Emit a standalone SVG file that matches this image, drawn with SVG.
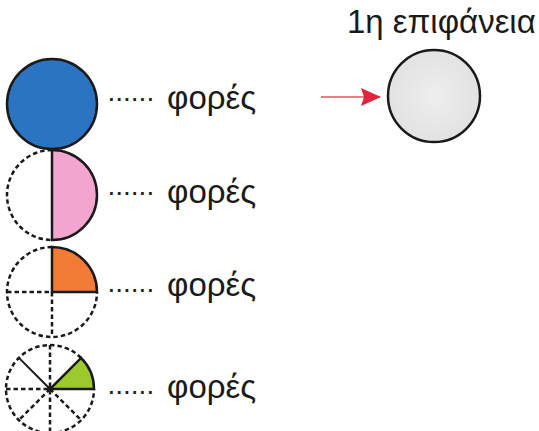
<svg xmlns="http://www.w3.org/2000/svg" width="539" height="431" viewBox="0 0 539 431">
<defs>
<style>
.lbl{font-family:"Liberation Sans",Arial,sans-serif;font-size:33px;fill:#1a1a1a}
.dots{font-family:"Liberation Sans",Arial,sans-serif;font-size:28px;fill:#222}
.solid{stroke:#1a1a1a;stroke-width:2.5;fill:none}
.dash{stroke:#1a1a1a;stroke-width:2.5;fill:none;stroke-dasharray:4.5 3}
</style>
<radialGradient id="gray" cx="0.5" cy="0.5" r="0.5">
<stop offset="0" stop-color="#eeeeee"/>
<stop offset="1" stop-color="#e2e2e2"/>
</radialGradient>
<marker id="arr" markerWidth="20" markerHeight="18" refX="19" refY="9" orient="auto" markerUnits="userSpaceOnUse" viewBox="0 0 20 18">
<path d="M0,0 L20,9 L0,18 L3,9 z" fill="#e0243c"/>
</marker>
</defs>
<rect width="539" height="431" fill="#ffffff"/>

<g id="whole">
<circle cx="52" cy="104" r="45" fill="#2b74c1" stroke="#1a1a1a" stroke-width="2.5"/>
<text class="dots" x="107.5" y="101">......</text>
<text class="lbl" x="167" y="109">φορές</text>
</g>

<g id="half">
<path d="M52,150 A45,45 0 0 1 52,240 Z" fill="#f2a6cf"/>
<path d="M52,150 A45,45 0 0 0 52,240" class="dash"/>
<path d="M52,150 A45,45 0 0 1 52,240 Z" class="solid"/>
<text class="dots" x="107.5" y="195">......</text>
<text class="lbl" x="167" y="203">φορές</text>
</g>

<g id="quarter">
<path d="M52,292 L52,247 A45,45 0 0 1 97,292 Z" fill="#f27b35"/>
<path d="M52,247 A45,45 0 1 0 97,292" class="dash"/>
<line x1="7" y1="292" x2="52" y2="292" class="dash"/>
<line x1="52" y1="292" x2="52" y2="337" class="dash"/>
<path d="M52,292 L52,247 A45,45 0 0 1 97,292 Z" class="solid"/>
<text class="dots" x="107.5" y="292">......</text>
<text class="lbl" x="167" y="296">φορές</text>
</g>

<g id="eighth">
<path d="M50,389 L94,389 A44,44 0 0 0 81.1,357.9 Z" fill="#9cca2c"/>
<path d="M81.1,357.9 A44,44 0 1 0 94,389" class="dash"/>
<line x1="6" y1="389" x2="50" y2="389" class="dash"/>
<line x1="50" y1="345" x2="50" y2="431" class="dash"/>
<line x1="50" y1="389" x2="18.9" y2="420.1" class="dash"/>
<line x1="50" y1="389" x2="81.1" y2="420.1" class="dash"/>
<line x1="50" y1="389" x2="18.9" y2="357.9" stroke="#1a1a1a" stroke-width="2"/>
<path d="M50,389 L94,389 A44,44 0 0 0 81.1,357.9 Z" class="solid"/>
<circle cx="50" cy="389" r="3" fill="#1a1a1a"/>
<text class="dots" x="107.5" y="394">......</text>
<text class="lbl" x="167" y="398">φορές</text>
</g>

<g id="surface">
<text class="lbl" x="347" y="33">1η  επιφάνεια</text>
<circle cx="434" cy="96" r="46" fill="url(#gray)" stroke="#1a1a1a" stroke-width="2.5"/>
</g>

<g id="connectors">
<line x1="321" y1="97" x2="380" y2="97" stroke="#ef7b84" stroke-width="2" marker-end="url(#arr)"/>
</g>
</svg>
